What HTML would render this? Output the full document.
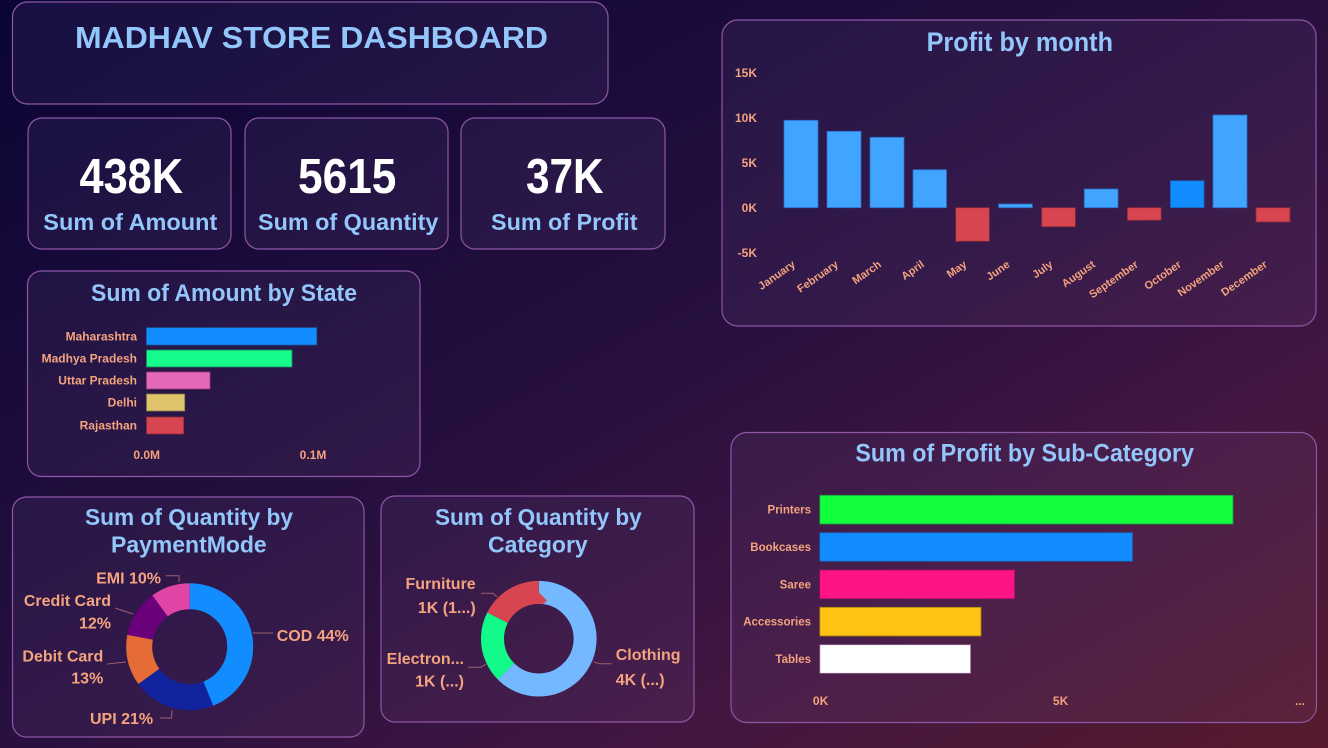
<!DOCTYPE html>
<html><head><meta charset="utf-8"><style>
html,body{margin:0;padding:0;background:#1a0c3a;}
svg{display:block;}
text{font-family:"Liberation Sans",sans-serif;font-weight:bold;}
.n{font-family:"Liberation Sans Narrow","Liberation Sans",sans-serif;font-weight:bold;}
.t{fill:#93c6fa;}
.s{fill:#f5a37e;}
.card{fill:#b49be6;fill-opacity:0.07;stroke:#8e56a6;stroke-width:1.2;}
.lead{stroke:#9a6070;stroke-width:1;fill:none;}
</style></head><body>
<svg width="1328" height="748" viewBox="0 0 1328 748" xmlns="http://www.w3.org/2000/svg">
<defs>
<linearGradient id="bg" x1="0" y1="0" x2="1" y2="1">
<stop offset="0" stop-color="#0a0535"/>
<stop offset="0.5" stop-color="#28103f"/>
<stop offset="0.75" stop-color="#431640"/>
<stop offset="1" stop-color="#561a2c"/>
</linearGradient>
</defs>
<rect width="1328" height="748" fill="url(#bg)"/>

<!-- Cards -->
<rect class="card" x="12.5" y="2" width="595.5" height="102" rx="15"/>
<rect class="card" x="28" y="118" width="203" height="131" rx="14"/>
<rect class="card" x="245" y="118" width="203" height="131" rx="14"/>
<rect class="card" x="461" y="118" width="204" height="131" rx="14"/>
<rect class="card" x="27.5" y="271" width="392.5" height="205.5" rx="14"/>
<rect class="card" x="722" y="20" width="594" height="306" rx="16"/>
<rect class="card" x="12.5" y="497" width="351.5" height="240" rx="14"/>
<rect class="card" x="381" y="496" width="313" height="226" rx="14"/>
<rect class="card" x="731" y="432.5" width="585.5" height="290" rx="16"/>

<!-- Title -->
<text class="n t" x="75" y="48" font-size="31" textLength="473" lengthAdjust="spacingAndGlyphs">MADHAV STORE DASHBOARD</text>

<!-- KPIs -->
<text class="n" x="79.5" y="193" font-size="49" fill="#ffffff" textLength="103.5" lengthAdjust="spacingAndGlyphs">438K</text>
<text class="n" x="298" y="193" font-size="49" fill="#ffffff" textLength="98.4" lengthAdjust="spacingAndGlyphs">5615</text>
<text class="n" x="526" y="193" font-size="49" fill="#ffffff" textLength="77.6" lengthAdjust="spacingAndGlyphs">37K</text>
<text class="n t" x="43.3" y="230" font-size="23.5" textLength="174" lengthAdjust="spacingAndGlyphs">Sum of Amount</text>
<text class="n t" x="258" y="230" font-size="23.5" textLength="180.4" lengthAdjust="spacingAndGlyphs">Sum of Quantity</text>
<text class="n t" x="491" y="230" font-size="23.5" textLength="146.5" lengthAdjust="spacingAndGlyphs">Sum of Profit</text>

<!-- Sum of Amount by State -->
<text class="n t" x="91" y="301" font-size="24.5" textLength="266" lengthAdjust="spacingAndGlyphs">Sum of Amount by State</text>
<g stroke-width="0.8">
<rect x="146.5" y="327.7" width="170.2" height="17.3" fill="#118dff" stroke="#1a5ea8"/>
<rect x="146.5" y="350" width="145.5" height="17" fill="#15fc8c" stroke="#1a8a60"/>
<rect x="146.5" y="372" width="63.5" height="17" fill="#e468b8" stroke="#9a3a7a"/>
<rect x="146.5" y="394" width="38.2" height="17" fill="#e0c46c" stroke="#8a7a40"/>
<rect x="146.5" y="417" width="37.2" height="17" fill="#d64550" stroke="#8a2a3a"/>
</g>
<g class="s" font-size="12" text-anchor="end">
<text x="137" y="340.5">Maharashtra</text>
<text x="137" y="362.5">Madhya Pradesh</text>
<text x="137" y="384.5">Uttar Pradesh</text>
<text x="137" y="406.5">Delhi</text>
<text x="137" y="429.5">Rajasthan</text>
</g>
<g class="s" font-size="12" text-anchor="middle">
<text x="146.7" y="459">0.0M</text>
<text x="313" y="459">0.1M</text>
</g>

<!-- Profit by month -->
<text class="n t" x="926.6" y="51" font-size="26.5" textLength="186.4" lengthAdjust="spacingAndGlyphs">Profit by month</text>
<g class="s" font-size="12" text-anchor="end">
<text x="757" y="77">15K</text>
<text x="757" y="122">10K</text>
<text x="757" y="167">5K</text>
<text x="757" y="212">0K</text>
<text x="757" y="257">-5K</text>
</g>
<g stroke-width="0.8">
<rect x="784" y="120.3" width="34" height="87.4" fill="#41a4ff" stroke="#2a6fc0"/>
<rect x="827" y="131.3" width="34" height="76.4" fill="#41a4ff" stroke="#2a6fc0"/>
<rect x="870" y="137.3" width="34" height="70.4" fill="#41a4ff" stroke="#2a6fc0"/>
<rect x="913" y="169.7" width="33.5" height="38" fill="#41a4ff" stroke="#2a6fc0"/>
<rect x="955.7" y="207.7" width="33.7" height="33.6" fill="#d64550" stroke="#8a2a3a"/>
<rect x="998.7" y="204" width="33.7" height="3.7" fill="#41a4ff" stroke="#2a6fc0"/>
<rect x="1041.7" y="207.7" width="33.7" height="19" fill="#d64550" stroke="#8a2a3a"/>
<rect x="1084.3" y="189" width="33.7" height="18.7" fill="#41a4ff" stroke="#2a6fc0"/>
<rect x="1127.4" y="207.7" width="33.7" height="12.6" fill="#d64550" stroke="#8a2a3a"/>
<rect x="1170.4" y="180.7" width="33.7" height="27" fill="#118dff" stroke="#1a5ea8"/>
<rect x="1213" y="115" width="34" height="92.7" fill="#41a4ff" stroke="#2a6fc0"/>
<rect x="1256" y="207.7" width="34" height="14.3" fill="#d64550" stroke="#8a2a3a"/>
</g>
<g class="s" font-size="11" text-anchor="end">
<text transform="translate(796,266) rotate(-35)">January</text>
<text transform="translate(839,266) rotate(-35)">February</text>
<text transform="translate(882,266) rotate(-35)">March</text>
<text transform="translate(925,266) rotate(-35)">April</text>
<text transform="translate(967.5,266) rotate(-35)">May</text>
<text transform="translate(1010.5,266) rotate(-35)">June</text>
<text transform="translate(1053.5,266) rotate(-35)">July</text>
<text transform="translate(1096,266) rotate(-35)">August</text>
<text transform="translate(1139,266) rotate(-35)">September</text>
<text transform="translate(1182,266) rotate(-35)">October</text>
<text transform="translate(1225,266) rotate(-35)">November</text>
<text transform="translate(1268,266) rotate(-35)">December</text>
</g>

<!-- Sum of Profit by Sub-Category -->
<text class="n t" x="855.4" y="461.3" font-size="25" textLength="338.6" lengthAdjust="spacingAndGlyphs">Sum of Profit by Sub-Category</text>
<g stroke-width="0.8">
<rect x="819.8" y="495.3" width="413.2" height="28.7" fill="#12ff3e" stroke="#1a9a3a"/>
<rect x="819.8" y="532.7" width="312.7" height="28.6" fill="#118dff" stroke="#1a5ea8"/>
<rect x="819.8" y="570" width="194.8" height="28.7" fill="#ff1486" stroke="#a01060"/>
<rect x="819.8" y="607.3" width="161.2" height="28.7" fill="#ffc313" stroke="#a07a10"/>
<rect x="819.8" y="644.7" width="150.8" height="28.6" fill="#ffffff" stroke="#8a6a8a"/>
</g>
<g class="s" font-size="11.5" text-anchor="end">
<text x="811" y="513.7">Printers</text>
<text x="811" y="551">Bookcases</text>
<text x="811" y="588.4">Saree</text>
<text x="811" y="625.7">Accessories</text>
<text x="811" y="663">Tables</text>
</g>
<g class="s" font-size="12" text-anchor="middle">
<text x="820.6" y="705">0K</text>
<text x="1060.6" y="705">5K</text>
<text x="1300" y="705">...</text>
</g>

<!-- Sum of Quantity by PaymentMode -->
<text class="n t" x="85" y="525" font-size="23" textLength="208" lengthAdjust="spacingAndGlyphs">Sum of Quantity by</text>
<text class="n t" x="111" y="552.7" font-size="23" textLength="155.7" lengthAdjust="spacingAndGlyphs">PaymentMode</text>
<g transform="rotate(-90 189.7 646.7)" fill="none" stroke-width="26">
<circle cx="189.7" cy="646.7" r="50.5" pathLength="100" stroke="#118dff" stroke-dasharray="44 56" stroke-dashoffset="0"/>
<circle cx="189.7" cy="646.7" r="50.5" pathLength="100" stroke="#12239e" stroke-dasharray="21 79" stroke-dashoffset="-44"/>
<circle cx="189.7" cy="646.7" r="50.5" pathLength="100" stroke="#e66c37" stroke-dasharray="13 87" stroke-dashoffset="-65"/>
<circle cx="189.7" cy="646.7" r="50.5" pathLength="100" stroke="#6b007b" stroke-dasharray="12 88" stroke-dashoffset="-78"/>
<circle cx="189.7" cy="646.7" r="50.5" pathLength="100" stroke="#e044a7" stroke-dasharray="10 90" stroke-dashoffset="-90"/>
</g>
<path class="lead" d="M253,633 L273,633"/>
<path class="lead" d="M160,718 L171.5,718 L172,710"/>
<path class="lead" d="M107,664 L126,662"/>
<path class="lead" d="M115,608 L133,614"/>
<path class="lead" d="M165.7,575.7 L179,575.7 L179,582"/>
<g class="s" font-size="16">
<text x="276.7" y="641">COD 44%</text>
<text x="90" y="724">UPI 21%</text>
<text x="103.3" y="661.5" text-anchor="end">Debit Card</text>
<text x="103.3" y="683.5" text-anchor="end">13%</text>
<text x="111" y="606" text-anchor="end">Credit Card</text>
<text x="111" y="628.5" text-anchor="end">12%</text>
<text x="161" y="583.5" text-anchor="end">EMI 10%</text>
</g>

<!-- Sum of Quantity by Category -->
<text class="n t" x="435" y="525" font-size="23" textLength="206.7" lengthAdjust="spacingAndGlyphs">Sum of Quantity by</text>
<text class="n t" x="488" y="552.7" font-size="23" textLength="99.7" lengthAdjust="spacingAndGlyphs">Category</text>
<g transform="rotate(-90 538.8 638.7)" fill="none" stroke-width="23">
<circle cx="538.8" cy="638.7" r="46.3" pathLength="100" stroke="#74b9ff" stroke-dasharray="62.5 37.5" stroke-dashoffset="0"/>
<circle cx="538.8" cy="638.7" r="46.3" pathLength="100" stroke="#12fb8a" stroke-dasharray="20 80" stroke-dashoffset="-62.5"/>
<circle cx="538.8" cy="638.7" r="46.3" pathLength="100" stroke="#d64550" stroke-dasharray="17.5 82.5" stroke-dashoffset="-82.5"/>
</g>
<path class="lead" d="M481,593.3 L493,593.3 L497,597"/>
<path class="lead" d="M468.3,667.3 L481,667.3 L486,664"/>
<path class="lead" d="M593.3,661.7 L599,663.7 L611.7,663.7"/>
<g class="s" font-size="16">
<text x="475.7" y="589" text-anchor="end">Furniture</text>
<text x="475.7" y="613" text-anchor="end">1K (1...)</text>
<text x="464" y="664" text-anchor="end">Electron...</text>
<text x="464" y="686.5" text-anchor="end">1K (...)</text>
<text x="615.7" y="660">Clothing</text>
<text x="615.7" y="685">4K (...)</text>
</g>
</svg>
</body></html>
